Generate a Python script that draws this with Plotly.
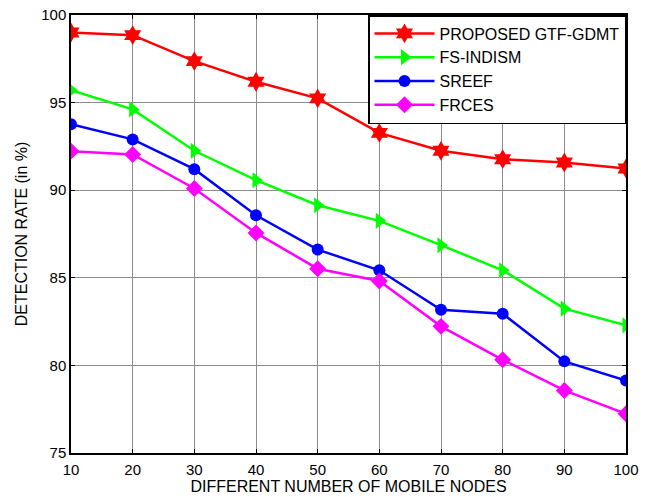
import plotly.graph_objects as go

nodes = [10, 20, 30, 40, 50, 60, 70, 80, 90, 100]
gtf_gdmt = [99.0, 98.85, 97.37, 96.19, 95.24, 93.27, 92.25, 91.77, 91.58, 91.24]
fs_indism = [95.71, 94.61, 92.25, 90.57, 89.14, 88.25, 86.86, 85.43, 83.24, 82.29]
sreef = [93.77, 92.9, 91.2, 88.57, 86.61, 85.43, 83.18, 82.95, 80.23, 79.14]
frces = [92.23, 92.04, 90.1, 87.56, 85.52, 84.82, 82.23, 80.32, 78.57, 77.24]

series = [
    ("PROPOSED GTF-GDMT", gtf_gdmt, "#ff0000", "hexagram", 15),
    ("FS-INDISM", fs_indism, "#00ff00", "triangle-right", 14),
    ("SREEF", sreef, "#0000ff", "circle", 12),
    ("FRCES", frces, "#ff00ff", "diamond", 13),
]

fig = go.Figure()
for name, vals, color, sym, sz in series:
    fig.add_trace(go.Scatter(
        x=nodes, y=vals, name=name, mode="lines+markers",
        line=dict(color=color, width=2.5),
        marker=dict(symbol=sym, size=sz, color=color, line=dict(width=0)),
    ))

axis_common = dict(
    showline=True, linecolor="black", linewidth=1.5, mirror="ticks",
    ticks="inside", ticklen=4, tickcolor="black",
    showgrid=True, gridcolor="#8c8c8c", gridwidth=1,
    zeroline=False, automargin=False,
    tickfont=dict(family="Arial, Liberation Sans", size=15, color="black"),
)

fig.update_layout(
    width=652, height=497,
    margin=dict(l=71, r=26, t=15, b=44, autoexpand=False),
    paper_bgcolor="white", plot_bgcolor="white",
    font=dict(family="Arial, Liberation Sans", color="black"),
    showlegend=True,
    legend=dict(
        x=1, y=1, xanchor="right", yanchor="top",
        bgcolor="white", bordercolor="black", borderwidth=1.5,
        font=dict(size=16, color="black"),
        tracegroupgap=0, itemwidth=60,
    ),
    xaxis=dict(
        range=[10, 100], tickvals=nodes,
        ticklabelstandoff=2,
        title=dict(text="DIFFERENT NUMBER OF MOBILE NODES",
                   font=dict(size=16, color="black"), standoff=4),
        **axis_common,
    ),
    yaxis=dict(
        range=[75, 100], tickvals=[75, 80, 85, 90, 95, 100],
        title=dict(text="DETECTION RATE (in %)",
                   font=dict(size=16, color="black"), standoff=10),
        **axis_common,
    ),
)

fig.write_html("out.html")
